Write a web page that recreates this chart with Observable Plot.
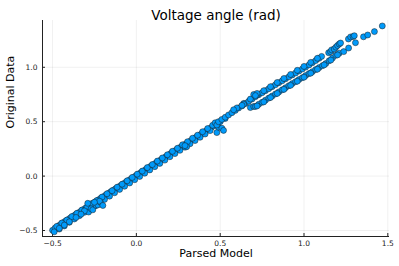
<!DOCTYPE html>
<html><head><meta charset="utf-8">
<script src="https://cdn.jsdelivr.net/npm/d3@7"></script>
<script src="https://cdn.jsdelivr.net/npm/@observablehq/plot@0.6"></script>
<style>body{margin:0;background:#fff}</style>
</head><body><div id="chart"></div>
<script>
// Parsed Model (x) and Original Data (y)
const parsedModel = [
 -0.500,-0.485,-0.470,-0.455,-0.440,-0.425,-0.410,-0.395,-0.380,-0.365,-0.350,-0.335,-0.320,-0.305,-0.290,-0.275,-0.260,-0.245,-0.230,-0.215,
 -0.200,-0.185,-0.170,-0.155,-0.140,-0.125,-0.110,-0.095,-0.080,-0.065,-0.050,-0.035,-0.020,-0.005,0.010,0.025,0.040,0.055,0.070,0.085,
 0.100,0.115,0.130,0.145,0.160,0.175,0.190,0.205,0.220,0.235,0.250,0.265,0.280,0.295,0.310,0.325,0.340,0.355,0.370,0.385,
 0.400,0.415,0.430,0.445,0.460,
 -0.49,-0.46,-0.43,-0.40,-0.37,-0.34,-0.31,-0.28,-0.25,-0.22,-0.19,-0.16,-0.13,-0.10,-0.07,-0.04,-0.01,0.02,0.05,0.08,
 0.11,0.14,0.17,0.20,0.23,0.26,0.29,0.32,0.35,0.38,0.41,0.44,
 -0.475,-0.445,-0.415,-0.385,-0.355,-0.325,-0.295,-0.265,-0.235,-0.205,-0.175,-0.145,-0.115,-0.085,-0.055,-0.025,0.005,0.035,0.065,0.095,
 0.125,0.155,0.185,0.215,0.245,0.275,0.305,0.335,0.365,0.395,0.425,0.455,
 -0.29,-0.285,-0.27,-0.26,-0.24,-0.23,-0.215,-0.22,-0.25,-0.20,-0.31,-0.33,-0.36,-0.40,-0.43,-0.46,
 0.30,0.29,0.47,0.48,0.49,0.51,0.52,0.50,0.53,0.48,
 0.490,0.510,0.530,0.550,0.570,0.590,0.610,0.630,0.650,0.670,0.690,0.710,0.730,0.750,0.770,0.790,0.810,0.830,0.850,0.870,
 0.890,0.910,0.930,0.950,0.970,0.990,1.010,1.030,1.050,1.070,1.090,1.105,
 0.600,0.640,0.680,0.720,0.760,0.800,0.840,0.880,0.920,0.960,1.000,1.040,1.080,
 0.700,0.720,0.710,0.640,0.630,0.580,
 1.147,1.158,1.165,1.180,1.190,1.200,1.210,1.218,1.265,1.278,1.293,1.300,
 0.680,0.700,0.710,0.730,0.750,0.770,0.790,0.810,0.830,0.850,0.870,0.890,0.910,0.930,0.950,0.970,0.990,1.010,1.030,1.050,
 1.070,1.090,1.110,1.130,1.150,1.170,1.190,1.210,1.237,1.266,1.307,1.355,1.380,1.420,1.467,
 0.720,0.760,0.800,0.840,0.880,0.920,0.960,1.000,1.040,1.080,1.120,1.160,1.200
];
const originalData = [
 -0.498,-0.478,-0.462,-0.447,-0.430,-0.416,-0.401,-0.386,-0.372,-0.356,-0.341,-0.327,-0.311,-0.296,-0.282,-0.266,-0.251,-0.236,-0.222,-0.206,
 -0.192,-0.177,-0.161,-0.147,-0.132,-0.117,-0.102,-0.088,-0.073,-0.058,-0.043,-0.029,-0.014,0.001,0.016,0.031,0.045,0.060,0.075,0.090,
 0.104,0.119,0.134,0.149,0.163,0.178,0.193,0.208,0.222,0.237,0.252,0.267,0.281,0.296,0.311,0.326,0.341,0.356,0.370,0.385,
 0.400,0.415,0.430,0.445,0.460,
 -0.512,-0.487,-0.458,-0.425,-0.394,-0.364,-0.333,-0.305,-0.276,-0.244,-0.214,-0.184,-0.153,-0.122,-0.093,-0.063,-0.033,-0.003,0.027,0.057,
 0.087,0.117,0.147,0.178,0.207,0.237,0.266,0.297,0.327,0.357,0.387,0.418,
 -0.462,-0.431,-0.404,-0.372,-0.342,-0.312,-0.284,-0.252,-0.224,-0.193,-0.162,-0.134,-0.102,-0.074,-0.043,-0.012,0.018,0.046,0.078,0.106,
 0.138,0.167,0.196,0.228,0.256,0.288,0.316,0.348,0.376,0.408,0.437,0.467,
 -0.250,-0.330,-0.300,-0.310,-0.270,-0.265,-0.240,-0.230,-0.240,-0.270,-0.320,-0.350,-0.380,-0.420,-0.450,-0.480,
 0.270,0.280,0.490,0.400,0.450,0.440,0.420,0.500,0.530,0.470,
 0.500,0.521,0.541,0.562,0.583,0.604,0.626,0.645,0.667,0.688,0.708,0.730,0.748,0.766,0.785,0.803,0.822,0.840,0.858,0.876,
 0.894,0.912,0.930,0.948,0.966,0.984,1.002,1.022,1.042,1.062,1.082,1.100,
 0.627,0.668,0.708,0.746,0.785,0.822,0.860,0.897,0.934,0.972,1.008,1.045,1.083,
 0.750,0.760,0.740,0.660,0.650,0.610,
 1.134,1.144,1.160,1.168,1.185,1.200,1.214,1.223,1.260,1.279,1.282,1.290,
 0.630,0.640,0.640,0.660,0.678,0.698,0.717,0.736,0.755,0.774,0.793,0.812,0.831,0.850,0.868,0.887,0.905,0.924,0.942,0.960,
 0.979,0.997,1.015,1.034,1.060,1.085,1.110,1.130,1.144,1.177,1.226,1.280,1.297,1.328,1.380,
 0.645,0.682,0.722,0.760,0.797,0.834,0.872,0.909,0.946,0.982,1.022,1.066,1.114
];
const xTicks = [-0.5, 0.0, 0.5, 1.0, 1.5];
const yTicks = [-0.5, 0.0, 0.5, 1.0];
const xDomain = [-0.56, 1.51];
const yDomain = [-0.555, 1.43];
const titleText = ["Voltage angle (rad)"];
const xLabelText = ["Parsed Model"];
const yLabelText = ["Original Data"];

const points = parsedModel.map((x, i) => ({x, y: originalData[i]}));
const fmt = d3.format(".1f");

const chart = Plot.plot({
  width: 399, height: 266,
  marginLeft: 42, marginRight: 10, marginTop: 20, marginBottom: 30,
  style: {fontFamily: "DejaVu Sans", background: "white", color: "#000"},
  x: {domain: xDomain},
  y: {domain: yDomain},
  marks: [
    Plot.gridX(xTicks, {stroke: "#000", strokeOpacity: 0.1, strokeWidth: 0.6}),
    Plot.gridY(yTicks, {stroke: "#000", strokeOpacity: 0.1, strokeWidth: 0.6}),
    Plot.axisX(xTicks, {tickSize: -3, tickPadding: 7, tickFormat: fmt, label: null, fontSize: 7.5, fill: "#222", stroke: "#222"}),
    Plot.axisY(yTicks, {tickSize: -3, tickPadding: 8, tickFormat: fmt, label: null, fontSize: 7.5, fill: "#222", stroke: "#222"}),
    Plot.ruleX([xDomain[0]], {stroke: "#222", strokeWidth: 1}),
    Plot.ruleY([yDomain[0]], {stroke: "#222", strokeWidth: 1}),
    Plot.dot(points, {x: "x", y: "y", r: 3, fill: "#009AFA", stroke: "#1a1a1a", strokeWidth: 0.5}),
    Plot.text(titleText, {text: d => d, frameAnchor: "top", dy: -10, fontSize: 13.5, fill: "#000"}),
    Plot.text(xLabelText, {text: d => d, frameAnchor: "bottom", dy: 20, fontSize: 11, fill: "#000"}),
    Plot.text(yLabelText, {text: d => d, frameAnchor: "left", dx: -32, rotate: -90, fontSize: 11, fill: "#000"})
  ]
});
document.getElementById("chart").appendChild(chart);
</script>
</body></html>
